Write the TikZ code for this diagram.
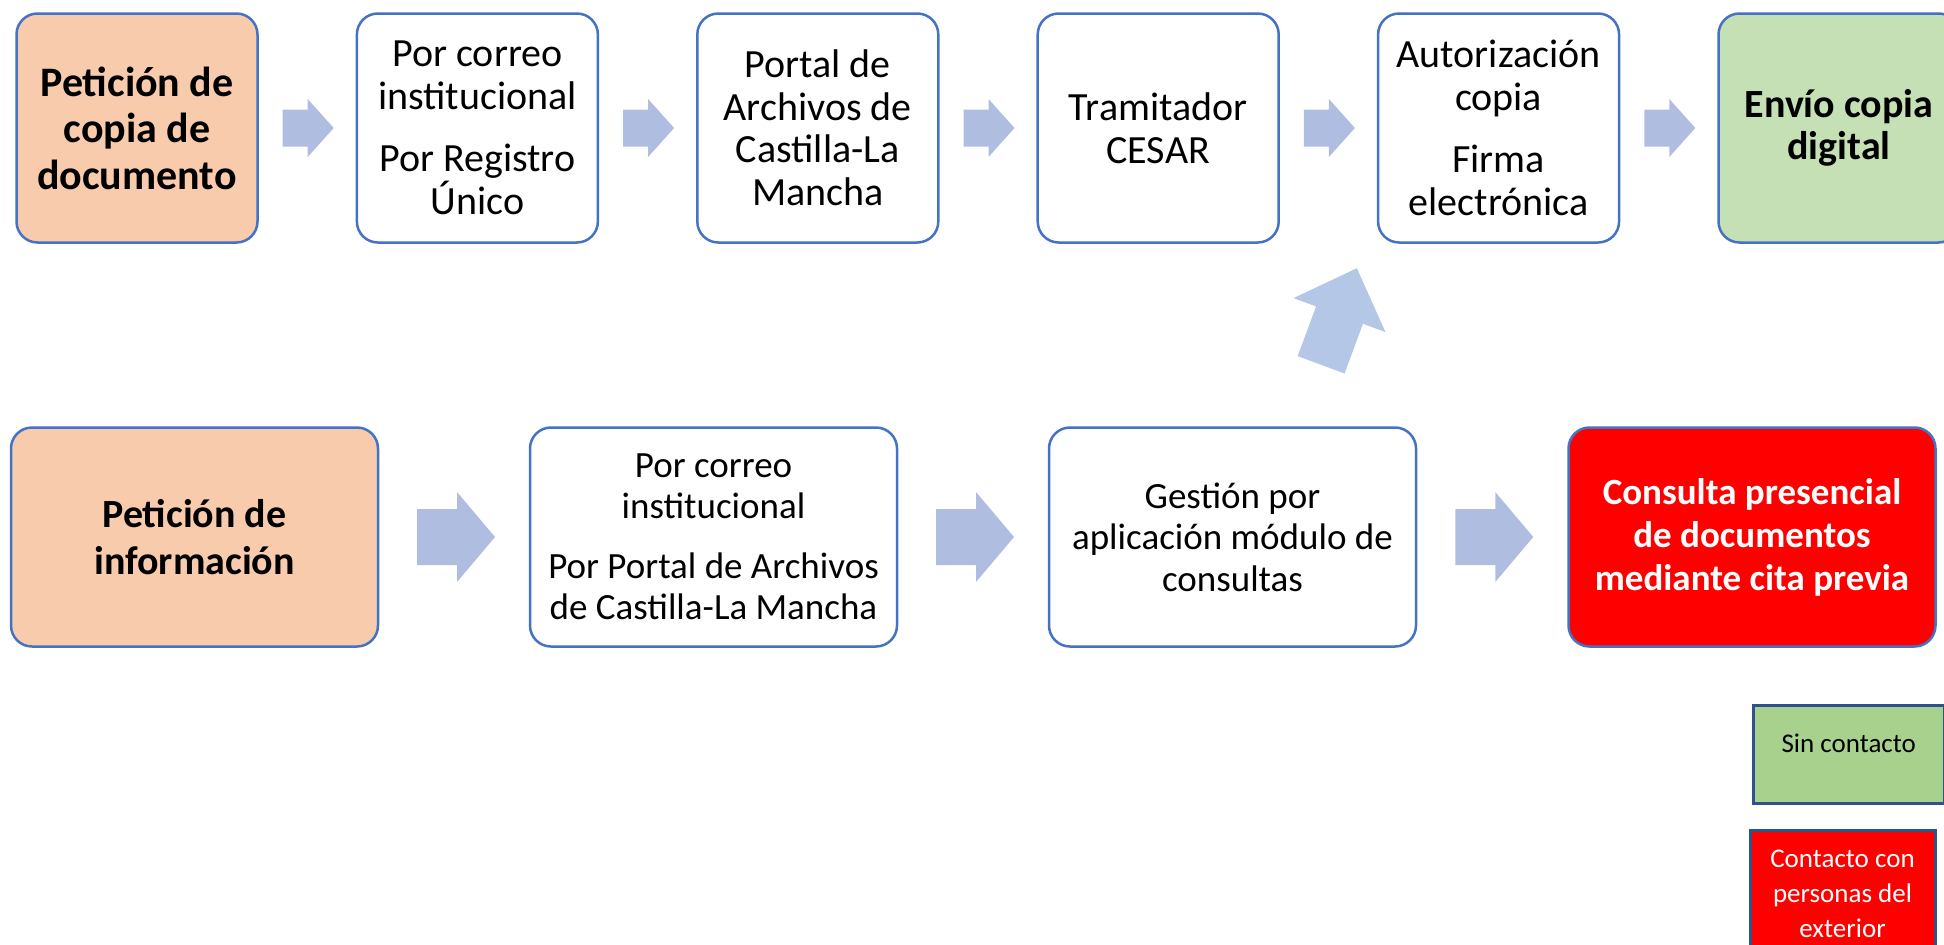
\documentclass[tikz,border=0pt]{standalone}
\usepackage{fontspec}
\setmainfont{Carlito}
\usetikzlibrary{calc}
\definecolor{bordblue}{HTML}{4472C4}
\definecolor{legblue}{HTML}{2F528F}
\definecolor{orangefill}{HTML}{F8CBAD}
\definecolor{greenfill}{HTML}{C5E0B4}
\definecolor{leggreen}{HTML}{A9D18E}
\definecolor{arrowfill}{HTML}{AFBDE1}
\definecolor{diagfill}{HTML}{B4C7E7}
\definecolor{redfill}{HTML}{FF0000}
\newcommand\blockarr[8]{% #1 centre, #2 angle, #3 length, #4 shaft half, #5 head half, #6 head length, #7 colour, #8 unused
  \begin{scope}[shift={#1}, rotate=#2]
    \fill[#7] (-#3/2,-#4) -- ({#3/2-#6},-#4) -- ({#3/2-#6},-#5) -- (#3/2,0)
      -- ({#3/2-#6},#5) -- ({#3/2-#6},#4) -- (-#3/2,#4) -- cycle;
  \end{scope}}
\tikzset{
  box/.style={draw=bordblue, line width=2.5pt, rounded corners=21pt, inner sep=0pt, align=center},
  topbox/.style={box, minimum width=241pt, minimum height=229pt},
  botbox/.style={box, minimum width=367pt, minimum height=219pt},
  topreg/.style={font=\fontsize{40}{42.5}\selectfont},
  topbold/.style={font=\fontsize{42}{46.5}\selectfont\bfseries},
  botreg/.style={font=\fontsize{37}{40.5}\selectfont},
  botbold/.style={font=\fontsize{37}{43}\selectfont\bfseries},
  legbox/.style={draw=legblue, line width=3pt, inner sep=0pt, align=center, anchor=north west,
    font=\fontsize{27}{35}\selectfont},
}
\begin{document}
\begin{tikzpicture}[x=1pt,y=-1pt]
\useasboundingbox (0,0) rectangle (1944,945);
% top row
\node[topbox, fill=orangefill, topbold] (t1) at (137,128) {Petición de\\copia de\\documento};
\node[topbox, fill=white, topreg] (t2) at (477.4,128) {Por correo\\institucional\\[20pt]Por Registro\\Único};
\node[topbox, fill=white, topreg] (t3) at (817.8,128) {Portal de\\Archivos de\\Castilla-La\\Mancha};
\node[topbox, fill=white, topreg] (t4) at (1158.2,128) {Tramitador\\CESAR};
\node[topbox, fill=white, topreg] (t5) at (1498.6,128) {Autorización\\copia\\[20pt]Firma\\electrónica};
\node[topbox, fill=greenfill, font=\fontsize{40}{41.5}\selectfont\bfseries] (t6) at (1839,128) {Envío copia\\digital};
% top arrows
\blockarr{($(t1.east)!0.5!(t2.west)+(1,0)$)}{0}{51}{18.5}{29}{26}{arrowfill}{}
\blockarr{($(t2.east)!0.5!(t3.west)+(1,0)$)}{0}{51}{18.5}{29}{26}{arrowfill}{}
\blockarr{($(t3.east)!0.5!(t4.west)+(1,0)$)}{0}{51}{18.5}{29}{26}{arrowfill}{}
\blockarr{($(t4.east)!0.5!(t5.west)+(1,0)$)}{0}{51}{18.5}{29}{26}{arrowfill}{}
\blockarr{($(t5.east)!0.5!(t6.west)+(1,0)$)}{0}{51}{18.5}{29}{26}{arrowfill}{}
% bottom row
\node[botbox, fill=orangefill, font=\fontsize{40}{47}\selectfont\bfseries] (b1) at (194.5,537) {Petición de\\información};
\node[botbox, fill=white, botreg] (b2) at (713.5,537) {Por correo\\institucional\\[20pt]Por Portal de Archivos\\de Castilla-La Mancha};
\node[botbox, fill=white, font=\fontsize{37}{41.5}\selectfont] (b3) at (1232.5,537) {Gestión por\\aplicación módulo de\\consultas};
\node[botbox, fill=redfill, text=white, botbold] (b4) at (1752,537) {Consulta presencial\\de documentos\\mediante cita previa};
% bottom arrows
\blockarr{($(b1.east)!0.5!(b2.west)+(2,0)$)}{0}{78}{28}{45}{38}{arrowfill}{}
\blockarr{($(b2.east)!0.5!(b3.west)+(2,0)$)}{0}{78}{28}{45}{38}{arrowfill}{}
\blockarr{($(b3.east)!0.5!(b4.west)+(2,0)$)}{0}{78}{28}{45}{38}{arrowfill}{}
% diagonal arrow from the bottom row up to the authorisation step
\blockarr{(1339,316.5)}{69.7}{103}{25}{49}{50}{diagfill}{}
% legend
\node[legbox, fill=leggreen, minimum width=191.5pt, text height=47pt, text depth=51pt] (l1) at (1751.5,703.5) {Sin contacto};
\node[legbox, fill=redfill, text=white, minimum width=185pt, minimum height=128pt] (l2) at (1748.5,828.5) {Contacto con\\personas del\\exterior};
\end{tikzpicture}
\end{document}
